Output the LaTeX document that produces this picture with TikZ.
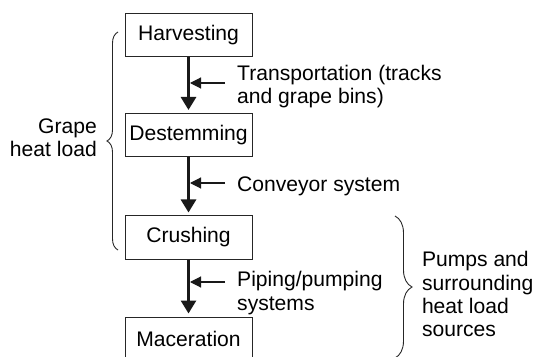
\documentclass[tikz,border=0pt]{standalone}
\usepackage{fontspec}
\setmainfont{Liberation Sans}
\usetikzlibrary{arrows.meta,decorations.pathreplacing}
\begin{document}
\begin{tikzpicture}[x=1pt,y=1pt,
  font=\fontsize{21.1}{23.3}\selectfont,
  stage/.style={draw=black!85,line width=1pt,minimum width=127pt,minimum height=43pt,inner sep=0pt},
  note/.style={inner sep=0pt,align=left,anchor=west},
  flow/.style={line width=2.8pt,black!90,-{Triangle[length=13pt,width=15pt]},shorten >=3pt},
  feed/.style={line width=1.1pt,black!90,-{Triangle[length=11pt,width=11pt]}},
  curly/.style={decorate,line width=0.9pt,black!85,decoration={brace,amplitude=#1}}]
\useasboundingbox (0,0) rectangle (537,356);

% process stages
\node[stage] (harv) at (188.5,321) {Harvesting};
\node[stage] (dest) at (188.5,221) {Destemming};
\node[stage] (crush) at (188.5,118.5) {Crushing};
\node[stage] (mac) at (188.5,17.5) {Maceration};

% main flow
\draw[flow] (harv) -- (dest);
\draw[flow] (dest) -- (crush);
\draw[flow] (crush) -- (mac);

% side inputs
\coordinate (f1s) at (225,273); \coordinate (f1e) at (190,273);
\coordinate (f2s) at (225,173); \coordinate (f2e) at (190,173);
\coordinate (f3s) at (225,74);  \coordinate (f3e) at (190,74);
\draw[feed] (f1s) -- (f1e);
\draw[feed] (f2s) -- (f2e);
\draw[feed] (f3s) -- (f3e);
\node[note] (l1) at (237,269.8) {Transportation (tracks\\and grape bins)};
\node[note] (l2) at (237,170) {Conveyor system};
\node[note] (l3) at (237,63) {Piping/pumping\\systems};

% grouping braces
\coordinate (b1a) at (118,106); \coordinate (b1b) at (118,324);
\draw[curly=11pt] (b1a) -- (b1b);
\node[inner sep=0pt,align=right,anchor=east] (g1) at (97,218.4) {Grape\\heat load};

\coordinate (b2a) at (395,140); \coordinate (b2b) at (395,-2);
\draw[curly=17pt] (b2a) -- (b2b);
\node[note] (g2) at (421.8,61.7) {Pumps and\\surrounding\\heat load\\sources};
\end{tikzpicture}
\end{document}
